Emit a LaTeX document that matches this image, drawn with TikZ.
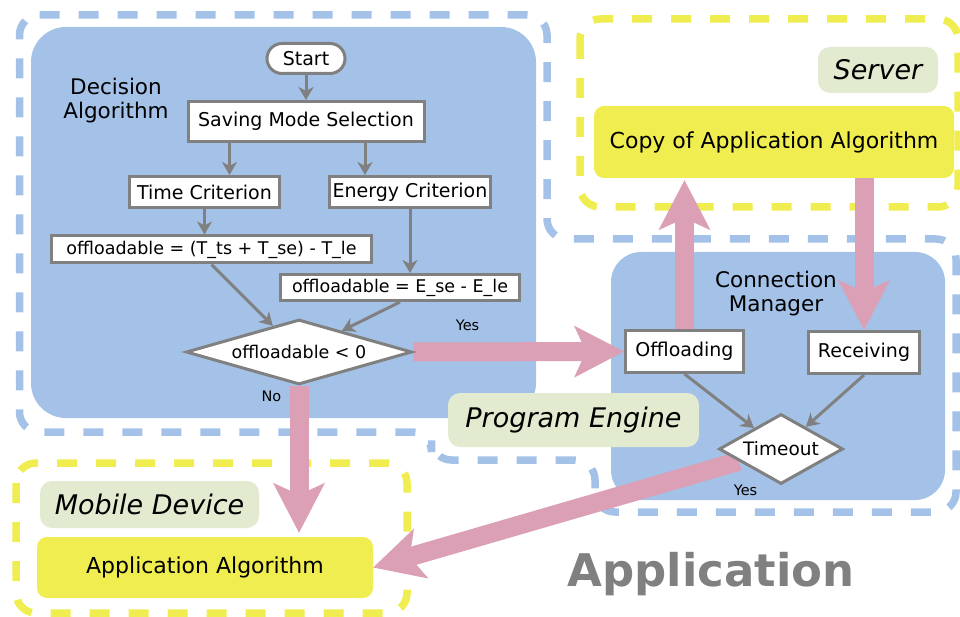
\documentclass[tikz,border=0pt]{standalone}
\usepackage{fontspec}
\setmainfont{DejaVu Sans}
\usepackage{tikz}
\usetikzlibrary{arrows.meta,positioning,shapes.geometric}
\pgfdeclarelayer{bglayer}
\pgfdeclarelayer{edgelayer}
\pgfsetlayers{bglayer,edgelayer,main}
\definecolor{blu}{RGB}{164,194,232}
\definecolor{yel}{RGB}{240,237,80}
\definecolor{grn}{RGB}{226,235,207}
\definecolor{pnk}{RGB}{219,160,181}
\definecolor{gry}{RGB}{128,128,128}
\tikzstyle{box}=[rectangle,draw=gry,line width=3pt,fill=white,inner sep=0pt,font=\fontsize{19}{22}\selectfont]
\tikzstyle{test}=[diamond,draw=gry,line width=3pt,fill=white,inner sep=0pt,font=\fontsize{19}{22}\selectfont]
\tikzstyle{appbox}=[rectangle,rounded corners=10pt,fill=yel,inner sep=0pt,font=\fontsize{22}{26}\selectfont]
\tikzstyle{tag}=[rectangle,rounded corners=12pt,fill=grn,inner sep=0pt,font=\fontsize{27}{32}\selectfont\itshape]
\tikzstyle{frame}=[line width=7.5pt,dash pattern=on 20pt off 19pt,rounded corners=20pt]
\tikzset{every picture/.style={line width=0.5pt}}

\begin{document}
\begin{tikzpicture}[x=1pt,y=-1pt]
\useasboundingbox (0,0) rectangle (960,617);
\begin{pgfonlayer}{bglayer}
\fill[blu,rounded corners=35pt] (31,27) rectangle (536,418);
\fill[blu,rounded corners=30pt] (611,252) rectangle (945,500);
\draw[frame,blu] (19.5,15) -- (547,15) -- (547,239) -- (956,239) -- (956,512) -- (595,512)
  -- (595,460) -- (431.5,460) -- (431.5,432) -- (19.5,432) -- cycle;
\draw[frame,yel] (580,19) rectangle (958,207);
\draw[frame,yel] (16,463) rectangle (407,613);
\end{pgfonlayer}
% decision algorithm
\node[align=center,font=\fontsize{21.5}{24}\selectfont] (DA) at (116,101) {Decision\\Algorithm};
\node[box,rounded corners=15pt,minimum width=78pt,minimum height=30pt] (S) at (306,58.5) {Start};
\node[box,minimum width=236pt,minimum height=40pt] (M) at (306,121.5) {Saving Mode Selection};
\node[box,minimum width=150pt,minimum height=31pt] (T) at (204.5,192) {Time Criterion};
\node[box,minimum width=161pt,minimum height=31pt] (E) at (410,192) {Energy Criterion};
\node[box,minimum width=320pt,minimum height=27pt,font=\fontsize{17.5}{20}\selectfont] (T') at (211.5,249.5) {offloadable = (T\_ts + T\_se) - T\_le};
\node[box,minimum width=239pt,minimum height=26pt,font=\fontsize{17.5}{20}\selectfont] (E') at (400,287.5) {offloadable = E\_se - E\_le};
\node[test,aspect=3.45,minimum width=226pt,minimum height=65pt,font=\fontsize{17.5}{20}\selectfont] (D) at (299,352) {offloadable < 0};
\node[font=\fontsize{14.5}{17}\selectfont] (y1) at (467.5,325) {Yes};
\node[font=\fontsize{14.5}{17}\selectfont] (n1) at (271.5,396) {No};
% connection manager
\node[align=center,font=\fontsize{21.5}{24}\selectfont] (CM) at (776,293.5) {Connection\\Manager};
\node[box,minimum width=118pt,minimum height=42pt] (O) at (684.5,351.5) {Offloading};
\node[box,minimum width=111pt,minimum height=42pt] (R) at (864,352.5) {Receiving};
\node[test,aspect=1.77,minimum width=124pt,minimum height=70pt,font=\fontsize{18.5}{21}\selectfont] (W) at (781,449) {Timeout};
\node[font=\fontsize{14.5}{17}\selectfont] (y2) at (745.5,490) {Yes};
% server, device
\node[tag,minimum width=120pt,minimum height=46pt] (SV) at (878,70) {Server};
\node[appbox,minimum width=360pt,minimum height=72pt] (C) at (774,142) {Copy of Application Algorithm};
\node[tag,minimum width=251pt,minimum height=54pt] (PE) at (573.5,420) {Program Engine};
\node[tag,minimum width=219pt,minimum height=47pt] (MD) at (149.5,504.5) {Mobile Device};
\node[appbox,minimum width=336pt,minimum height=61pt] (A) at (205,567.5) {Application Algorithm};
\node[anchor=base,text=gry,font=\fontsize{45}{54}\selectfont\bfseries] (AP) at (711,586) {Application};
\path[->,color=gry,line width=3pt,>={Stealth[length=13pt,width=15pt,inset=4pt]}]
(S) edge (M)
([xshift=25pt]T.north |- M.south) edge ([xshift=25pt]T.north)
([xshift=-45pt]E.north |- M.south) edge ([xshift=-45pt]E.north)
(T.south) edge (T.south |- T'.north)
(E.south) edge (E.south |- E'.north)
(T'.south) edge (D)
(E'.south) edge (D)
(O.south) edge (W)
(R.south) edge (W);
\begin{pgfonlayer}{edgelayer}
\path[color=pnk,line width=19pt,-{Stealth[length=50pt,width=52pt,inset=12pt,line width=0pt]}]
(D.east) edge (O.west)
(D.south) edge[shorten >=4pt] (D.south |- A.north)
(O.north) edge[shorten >=2pt] (O.north |- C.south)
(C.south -| R.north) edge (R.north)
(W) edge (A.east);
\end{pgfonlayer}
\end{tikzpicture}
\end{document}
